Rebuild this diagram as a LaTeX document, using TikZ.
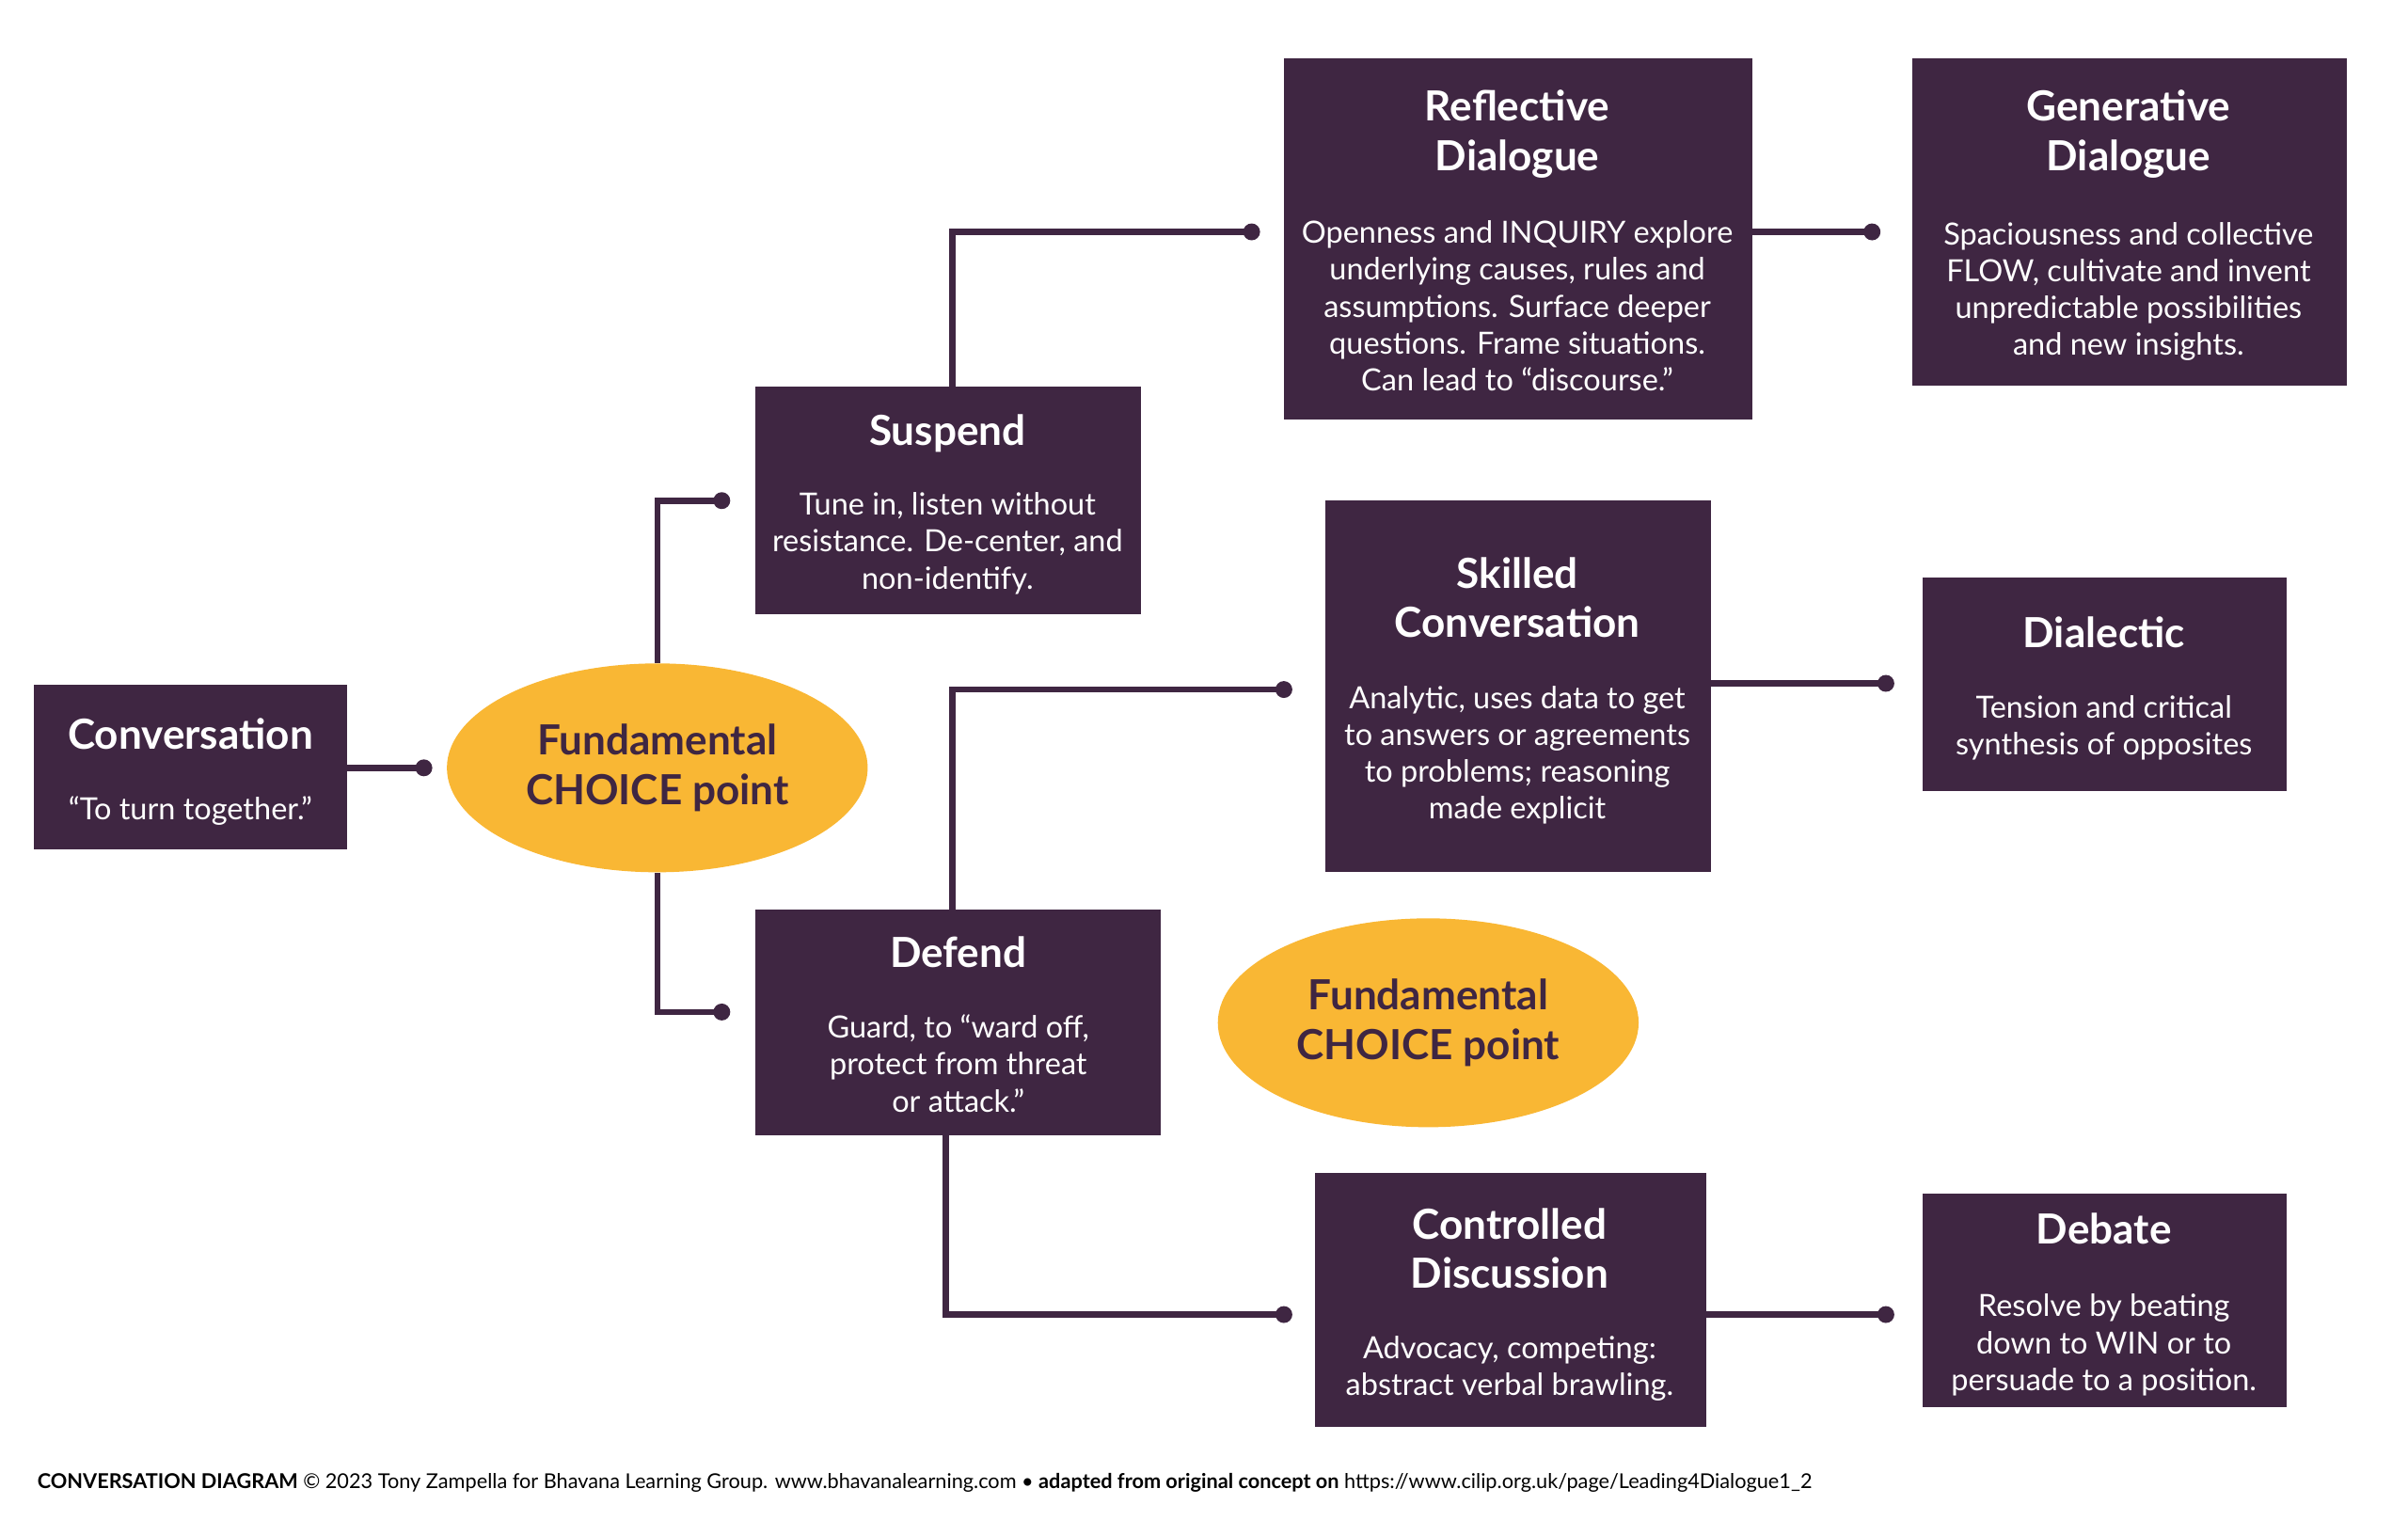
\documentclass[tikz,border=0pt]{standalone}
\usepackage{fontspec}
\setmainfont{Lato}
\usetikzlibrary{shapes.geometric}
\definecolor{plum}{HTML}{3F2642}
\definecolor{gold}{HTML}{F9B734}
\begin{document}
\begin{tikzpicture}[x=0.5pt,y=-0.5pt,
  box/.style={fill=plum,draw=none},
  ttl/.style={text=white,font=\fontsize{13.5}{16}\selectfont\bfseries,align=center,anchor=north,inner sep=0,yshift=9.8pt},
  bdy/.style={text=white,font=\fontsize{9.95}{12}\selectfont,align=center,anchor=north,inner sep=0,yshift=7.3pt},
  ell/.style={ellipse,fill=gold,minimum width=274*0.5pt,minimum height=136*0.5pt,inner sep=0,text=plum,font=\fontsize{13.5}{16}\selectfont\bfseries,align=center},
  con/.style={draw=plum,line width=2pt},
  dot/.style={fill=plum}]
\useasboundingbox (0,0) rectangle (1568,1000.2);
% boxes
\path[box] (22,446) rectangle (226,553);
\path[box] (492,252) rectangle (743,400);
\path[box] (836,38) rectangle (1141,273);
\path[box] (1245,38) rectangle (1528,251);
\path[box] (863,326) rectangle (1114,568);
\path[box] (1252,376) rectangle (1489,515);
\path[box] (492,592) rectangle (756,739);
\path[box] (856,764) rectangle (1111,929);
\path[box] (1252,777) rectangle (1489,916);
\node[ell] (e1) at (428,500) {Fundamental\\CHOICE point};
\node[ell] (e2) at (930,666) {Fundamental\\CHOICE point};
% texts
\node[ttl] (tconv) at (124,487) {Conversation};
\node[bdy] (bconv) at (124,533) {“To turn together.”};
\node[ttl] (tsus) at (617,289) {Suspend};
\node[bdy] (bsus) at (617,335) {Tune in, listen without\\resistance. De-center, and\\non-identify.};
\node[ttl] (tref) at (988,78) {Reflective\\Dialogue};
\node[bdy] (bref) at (988,158) {Openness and INQUIRY explore\\underlying causes, rules and\\assumptions. Surface deeper\\questions. Frame situations.\\Can lead to “discourse.”};
\node[ttl] (tgen) at (1386,78) {Generative\\Dialogue};
\node[bdy] (bgen) at (1386,159) {Spaciousness and collective\\FLOW, cultivate and invent\\unpredictable possibilities\\and new insights.};
\node[ttl] (tski) at (988,382) {Skilled\\Conversation};
\node[bdy] (bski) at (988,461) {Analytic, uses data to get\\to answers or agreements\\to problems; reasoning\\made explicit};
\node[ttl] (tdia) at (1370,421) {Dialectic};
\node[bdy] (bdia) at (1370,467) {Tension and critical\\synthesis of opposites};
\node[ttl] (tdef) at (624,629) {Defend};
\node[bdy] (bdef) at (624,675) {Guard, to “ward off,\\protect from threat\\or attack.”};
\node[ttl] (tcon) at (983,806) {Controlled\\Discussion};
\node[bdy] (bcon) at (983,884) {Advocacy, competing:\\abstract verbal brawling.};
\node[ttl] (tdeb) at (1370,809) {Debate};
\node[bdy] (bdeb) at (1370,857) {Resolve by beating\\down to WIN or to\\persuade to a position.};
% dots
\foreach \n/\x/\y in {d1/276/500,d2/470/326,d3/470/659,d4/815/151,d5/1219/151,d6/836/449,d7/1228/445,d8/836/856,d9/1228/856}
  {\coordinate (\n) at (\x,\y); \fill[dot] (\n) circle (5.5);}
% connectors
\draw[con] (226,500) -- (d1);
\draw[con] (e1.north) -- (e1.north |- d2) -- (d2);
\draw[con] (e1.south) -- (e1.south |- d3) -- (d3);
\draw[con] (620,252) -- (620,151) -- (d4);
\draw[con] (1141,151) -- (d5);
\draw[con] (620,592) -- (620,449) -- (d6);
\draw[con] (1114,445) -- (d7);
\draw[con] (616,739) -- (616,856) -- (d8);
\draw[con] (1111,856) -- (d9);
\node[anchor=base west,inner sep=0,font=\fontsize{6.65}{7}\selectfont] (foot) at (24,969) {\textbf{CONVERSATION DIAGRAM} © 2023 Tony Zampella for Bhavana Learning Group. www.bhavanalearning.com • \textbf{adapted from original concept on} https://www.cilip.org.uk/page/Leading4Dialogue1\_2};
\end{tikzpicture}
\end{document}
